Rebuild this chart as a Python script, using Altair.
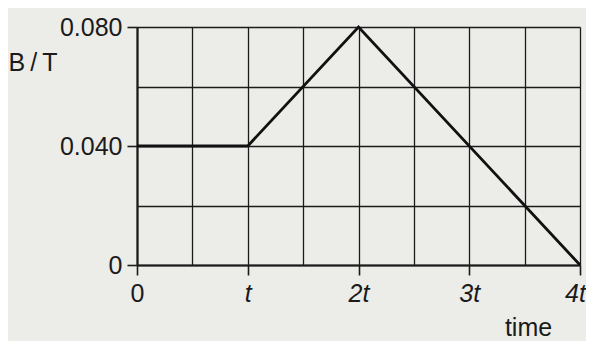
import altair as alt
import pandas as pd

# data
time_vals = [0, 1, 2, 4]          # in units of t
b_vals = [0.040, 0.040, 0.080, 0.0]  # B / T

x_grid = [0, 0.5, 1, 1.5, 2, 2.5, 3, 3.5, 4]
y_grid = [0, 0.02, 0.04, 0.06, 0.08]
x_tick_vals = [0, 1, 2, 3, 4]
x_tick_text = ["0", "t", "2t", "3t", "4t"]
y_tick_vals = [0, 0.04, 0.08]
y_tick_text = ["0", "0.040", "0.080"]

df = pd.DataFrame({"time": time_vals, "B": b_vals})

FONT = "Liberation Sans, Arial, Helvetica, sans-serif"
INK = "#1b1b1b"


def label_expr(vals, texts):
    expr = "''"
    for v, t in zip(reversed(vals), reversed(texts)):
        expr = f"abs(datum.value - {v}) < 1e-6 ? '{t}' : ({expr})"
    return expr


def is_major(vals):
    return " || ".join(f"abs(datum.value - {v}) < 1e-6" for v in vals)


x_axis = alt.Axis(
    values=x_grid,
    labelExpr=label_expr(x_tick_vals, x_tick_text),
    labelFontStyle={"condition": {"test": "datum.value == 0", "value": "normal"}, "value": "italic"},
    labelOffset={"condition": {"test": f"datum.value >= {x_tick_vals[-1]}", "value": -5}, "value": 0},
    tickOpacity={"condition": {"test": is_major(x_tick_vals), "value": 1}, "value": 0},
    tickSize=10,
    tickWidth=1.6,
    tickColor=INK,
    labelPadding=6,
    labelFont=FONT,
    labelFontSize=25,
    labelColor=INK,
    labelFlush=False,
    labelOverlap=False,
    domainColor=INK,
    domainWidth=2.2,
    grid=True,
    gridColor=INK,
    gridWidth=1.3,
    gridOpacity=1,
    title="time",
    titleFont=FONT,
    titleFontSize=25,
    titleFontWeight="normal",
    titleColor=INK,
    titleX=391,
    titleY=62,
    titleAlign="center",
    titleBaseline="middle",
)

y_axis = alt.Axis(
    values=y_grid,
    labelExpr=label_expr(y_tick_vals, y_tick_text),
    tickOpacity={"condition": {"test": is_major(y_tick_vals), "value": 1}, "value": 0},
    tickSize=10,
    tickWidth=1.6,
    tickColor=INK,
    labelPadding=5,
    labelFont=FONT,
    labelFontSize=25,
    labelColor=INK,
    labelFlush=False,
    labelOverlap=False,
    domainColor=INK,
    domainWidth=2.2,
    grid=True,
    gridColor=INK,
    gridWidth=1.3,
    gridOpacity=1,
    title="B\u2009/\u2009T",
    titleFont=FONT,
    titleFontSize=25,
    titleFontWeight="normal",
    titleColor=INK,
    titleAngle=0,
    titleX=-129,
    titleY=35,
    titleAlign="left",
    titleBaseline="middle",
)

chart = (
    alt.Chart(df)
    .mark_line(color="#111111", strokeWidth=2.8)
    .encode(
        x=alt.X("time:Q", scale=alt.Scale(domain=[0, 4], nice=False, zero=True), axis=x_axis),
        y=alt.Y("B:Q", scale=alt.Scale(domain=[0, 0.08], nice=False, zero=True), axis=y_axis),
    )
    .properties(
        width=443,
        height=238,
        autosize=alt.AutoSizeParams(type="none"),
        padding={"left": 129, "top": 19, "right": 6, "bottom": 76},
        background="#ecece9",
    )
    .configure_view(stroke=None)
)

chart.save("out.html", embed_options={"renderer": "svg", "actions": False})
